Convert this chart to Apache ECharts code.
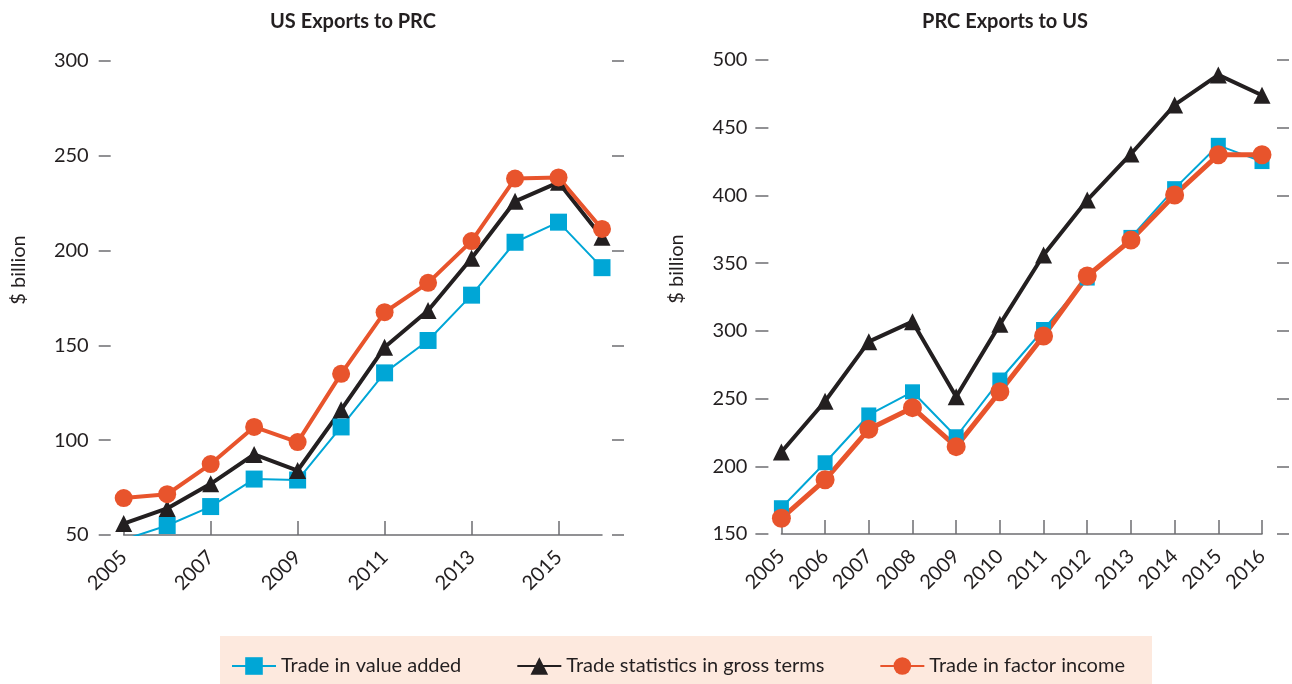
<!DOCTYPE html>
<html>
<head>
<meta charset="utf-8">
<script src="https://cdn.jsdelivr.net/npm/echarts@6/dist/echarts.min.js"></script>
<style>
html,body{margin:0;padding:0;background:#fff;}
#c{width:1292px;height:684px;}
</style>
</head>
<body>
<div id="c"></div>
<script>
const years = ['2005','2006','2007','2008','2009','2010','2011','2012','2013','2014','2015','2016'];
const seriesNames = ['Trade in value added','Trade statistics in gross terms','Trade in factor income'];
const titles = ['US Exports to PRC','PRC Exports to US'];
const yAxisName = '$ billion';

// US exports to PRC ($ billion)
const usValueAdded   = [47.5, 55, 65, 79.5, 79, 107, 135.5, 152.6, 176.5, 204.4, 215, 191];
const usGross        = [56, 64, 77, 92.5, 84, 116, 149, 168.4, 196, 226, 236, 207];
const usFactorIncome = [69.5, 71.5, 87.4, 107, 99, 135, 167.5, 183, 205, 238, 238.6, 211.4];

// PRC exports to US ($ billion)
const prcValueAdded   = [169.4, 202.6, 237.9, 255, 221.8, 263.7, 301, 339, 369, 405, 437, 425];
const prcGross        = [210.5, 248, 292, 306.8, 251.4, 304.8, 356, 396.6, 430.6, 466.8, 489, 474];
const prcFactorIncome = [161.6, 190, 227.3, 243.3, 214.5, 255, 296.2, 340.5, 367, 400.3, 430, 430];

const BLUE = '#00a6d6', BLACK = '#231f20', ORANGE = '#e8542c';
const AXIS = '#6d6e71', TXT = '#231f20';
const FONT = 'Lato';

const chart = echarts.init(document.getElementById('c'), null, {renderer:'canvas'});

function xAxis(gridIndex, every){
  return {
    type:'category', gridIndex, data: years, boundaryGap:false,
    axisLine:{show:true, lineStyle:{color:AXIS, width:1.5}},
    axisTick:{show:true, inside:true, length:14, interval: every, lineStyle:{color:AXIS, width:1.5}},
    axisLabel:{interval: every, rotate:45, margin:19, fontSize:20, color:TXT, fontFamily:FONT},
    splitLine:{show:false}
  };
}
function yAxis(gridIndex, pos, min, max, offset, len, showLabel, margin, name){
  const a = {
    type:'value', gridIndex, position:pos, min, max, interval:50, offset,
    axisLine:{show:false},
    axisTick:{show:true, length:len, lineStyle:{color:AXIS, width:1.5}},
    axisLabel:{show:showLabel, margin:margin, fontSize:20, color:TXT, fontFamily:FONT},
    splitLine:{show:false}
  };
  if (name) {
    a.name = name; a.nameLocation = 'middle'; a.nameRotate = 90; a.nameGap = 82;
    a.nameTextStyle = {fontSize:20, color:TXT, fontFamily:FONT, padding:[0,0,0,56]};
  }
  return a;
}
function mk(name, data, xi, yi, kind, big){
  const base = {name, type:'line', xAxisIndex:xi, yAxisIndex:yi, data, clip:true, z: 2};
  if (kind===0) Object.assign(base, {symbol:'rect', symbolSize: big?17:15, itemStyle:{color:BLUE}, lineStyle:{color:BLUE, width:2}});
  if (kind===1) Object.assign(base, {symbol:'triangle', symbolSize: 17, itemStyle:{color:BLACK}, lineStyle:{color:BLACK, width:4}});
  if (kind===2) Object.assign(base, {symbol:'circle', symbolSize: big?18:19, itemStyle:{color:ORANGE}, lineStyle:{color:ORANGE, width: big?4:5}});
  return base;
}

chart.setOption({
  animation:false,
  textStyle:{fontFamily:FONT},
  graphic:[{type:'rect', z:-10, shape:{x:220, y:636, width:932, height:48}, style:{fill:'#fde9de'}}],
  title:[
    {text:titles[0], left:348, top:7, textAlign:'center', textStyle:{fontSize:20, fontWeight:'bold', color:TXT, fontFamily:FONT}},
    {text:titles[1], left:1000, top:7, textAlign:'center', textStyle:{fontSize:20, fontWeight:'bold', color:TXT, fontFamily:FONT}}
  ],
  legend:{
    data: seriesNames, left:226, top:651, itemWidth:44, itemHeight:22, itemGap:55,
    textStyle:{fontSize:20, color:TXT, fontFamily:FONT}
  },
  grid:[
    {left:123.7, right:690, top:61, bottom:149},
    {left:781.4, right:30, top:60, bottom:150}
  ],
  xAxis:[xAxis(0,1), xAxis(1,0)],
  yAxis:[
    yAxis(0,'left',50,300,13,12,true,22,yAxisName),
    yAxis(0,'right',50,300,10,12,false,8),
    yAxis(1,'left',150,500,13,13,true,21,yAxisName),
    yAxis(1,'right',150,500,15,12,false,8)
  ],
  series:[
    mk(seriesNames[0], usValueAdded, 0, 0, 0, true),
    mk(seriesNames[1], usGross, 0, 0, 1, true),
    mk(seriesNames[2], usFactorIncome, 0, 0, 2, true),
    mk(seriesNames[0], prcValueAdded, 1, 2, 0, false),
    mk(seriesNames[1], prcGross, 1, 2, 1, false),
    mk(seriesNames[2], prcFactorIncome, 1, 2, 2, false)
  ]
});
</script>
</body>
</html>
